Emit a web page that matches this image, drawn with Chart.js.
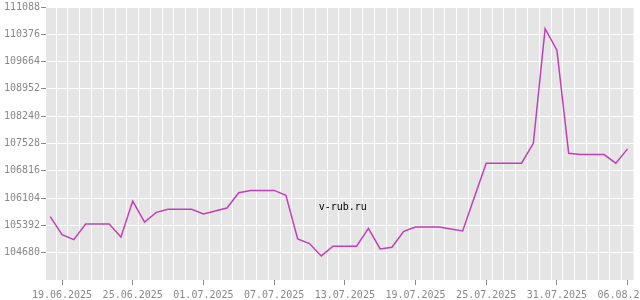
<!DOCTYPE html>
<html>
<head>
<meta charset="utf-8">
<script src="https://cdn.jsdelivr.net/npm/chart.js@4"></script>
<style>
  html, body { margin: 0; padding: 0; background: #fff; }
  #wrap { width: 640px; height: 300px; overflow: hidden; position: relative; }
</style>
</head>
<body>
<div id="wrap"><canvas id="rateChart" width="663" height="300"></canvas></div>
<script>
// one value per day, 18.06.2025 .. 06.08.2025
const dates = [
  '18.06.2025', '19.06.2025', '20.06.2025', '21.06.2025', '22.06.2025', '23.06.2025', '24.06.2025',
  '25.06.2025', '26.06.2025', '27.06.2025', '28.06.2025', '29.06.2025', '30.06.2025', '01.07.2025',
  '02.07.2025', '03.07.2025', '04.07.2025', '05.07.2025', '06.07.2025', '07.07.2025', '08.07.2025',
  '09.07.2025', '10.07.2025', '11.07.2025', '12.07.2025', '13.07.2025', '14.07.2025', '15.07.2025',
  '16.07.2025', '17.07.2025', '18.07.2025', '19.07.2025', '20.07.2025', '21.07.2025', '22.07.2025',
  '23.07.2025', '24.07.2025', '25.07.2025', '26.07.2025', '27.07.2025', '28.07.2025', '29.07.2025',
  '30.07.2025', '31.07.2025', '01.08.2025', '02.08.2025', '03.08.2025', '04.08.2025', '05.08.2025',
  '06.08.2025'
];
const rates = [
  105620, 105152, 105022, 105428, 105428, 105428, 105090,
  106026, 105480, 105732, 105810, 105810, 105810, 105692,
  105766, 105844, 106244, 106304, 106304, 106304, 106174,
  105038, 104918, 104596, 104848, 104848, 104848, 105316,
  104778, 104822, 105238, 105350, 105350, 105350, 105298,
  105246, 106130, 107014, 107014, 107014, 107014, 107534,
  110524, 109960, 107274, 107240, 107240, 107240, 107014,
  107388
];
// days that get a date label (19.06, 25.06, ... 06.08)
const labelDays = [1, 7, 13, 19, 25, 31, 37, 43, 49];
const yTicks = [104680, 105392, 106104, 106816, 107528, 108240, 108952, 109664, 110376, 111088];
const yMin = 103968;
const yMax = 111088;

const monoFont = { family: 'DejaVu Sans Mono', size: 10 };

// grey plot background + watermark
const plotStyle = {
  id: 'plotStyle',
  beforeDraw(chart) {
    const a = chart.chartArea;
    const c = chart.ctx;
    c.save();
    c.fillStyle = '#e5e5e5';
    c.fillRect(a.left, a.top, a.right - a.left, a.bottom - a.top);
    c.restore();
  },
  afterDatasetsDraw(chart) {
    const a = chart.chartArea;
    const c = chart.ctx;
    c.save();
    c.font = '10px "DejaVu Sans Mono"';
    c.fillStyle = '#000';
    c.textAlign = 'center';
    c.textBaseline = 'middle';
    c.fillText('v-rub.ru', a.left + (a.right - a.left) * 0.505, a.top + (a.bottom - a.top) * 0.735);
    c.restore();
  }
};

const ctx = document.getElementById('rateChart').getContext('2d');
const rateChart = new Chart(ctx, {
  type: 'line',
  data: {
    datasets: [{
      data: rates.map((v, i) => ({ x: i, y: v })),
      borderColor: '#c040b8',
      borderWidth: 1.5,
      pointRadius: 0,
      tension: 0,
      fill: false
    }]
  },
  options: {
    responsive: false,
    animation: false,
    layout: { padding: { left: 3, right: 0, top: 0, bottom: -5 } },
    plugins: { legend: { display: false }, tooltip: { enabled: false } },
    scales: {
      x: {
        type: 'linear',
        position: 'bottom',
        min: -0.35,
        max: 49.5,
        afterBuildTicks: (axis) => { axis.ticks = labelDays.map(d => ({ value: d })); },
        ticks: {
          autoSkip: false,
          maxRotation: 0,
          padding: 5,
          color: '#888',
          font: { family: 'DejaVu Sans Mono', size: 10, lineHeight: 1 },
          callback: (v) => dates[v]
        },
        grid: { drawOnChartArea: false, tickLength: 5, tickColor: '#888' },
        border: { display: false }
      },
      days: {
        type: 'linear',
        position: 'top',
        min: -0.35,
        max: 49.5,
        afterBuildTicks: (axis) => {
          axis.ticks = dates.map((d, i) => ({ value: i + 0.5 })).filter(t => t.value < 49.5);
        },
        ticks: { display: false },
        grid: { color: '#fff', lineWidth: 1, drawTicks: false },
        border: { display: false }
      },
      y: {
        min: yMin,
        max: yMax,
        afterBuildTicks: (axis) => { axis.ticks = yTicks.map(v => ({ value: v })); },
        ticks: {
          padding: 1,
          color: '#888',
          font: monoFont,
          callback: (v) => String(v)
        },
        grid: { color: '#fff', lineWidth: 1, tickLength: 5, tickColor: '#888' },
        border: { display: false }
      }
    }
  },
  plugins: [plotStyle]
});
</script>
</body>
</html>
